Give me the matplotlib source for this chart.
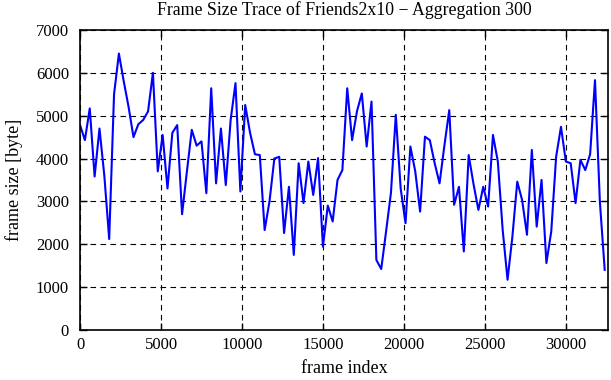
import numpy as np
import matplotlib
matplotlib.use("Agg")
import matplotlib.pyplot as plt

# aggregated frame sizes, one value every 300 frames
step = 300
frame_size = [
    4780, 4430, 5170, 3580, 4700, 3600, 2120, 5500, 6450, 5800,
    5200, 4500, 4800, 4900, 5100, 6000, 3700, 4550, 3300, 4600,
    4780, 2700, 3700, 4670, 4300, 4400, 3190, 5640, 3420, 4700,
    3380, 4900, 5760, 3230, 5250, 4600, 4100, 4080, 2330, 3000,
    4000, 4040, 2260, 3340, 1750, 3890, 2960, 3930, 3150, 4010,
    1940, 2900, 2530, 3500, 3730, 5640, 4430, 5100, 5520, 4280,
    5330, 1630, 1420, 2300, 3200, 5020, 3300, 2490, 4280, 3700,
    2760, 4510, 4430, 3890, 3420, 4300, 5130, 2920, 3340, 1830,
    4080, 3400, 2800, 3340, 2880, 4550, 3930, 2330, 1170, 2180,
    3460, 3030, 2220, 4200, 2410, 3500, 1560, 2300, 4040, 4740,
    3930, 3890, 2960, 3970, 3730, 4100, 5830, 3000, 1400,
]
frame_index = np.arange(len(frame_size)) * step

xticks = [0, 5000, 10000, 15000, 20000, 25000, 30000]
yticks = [0, 1000, 2000, 3000, 4000, 5000, 6000, 7000]

plt.rcParams['font.family'] = ['Liberation Serif', 'DejaVu Serif']

fig = plt.figure(figsize=(6.11, 3.80), dpi=100)
ax = fig.add_axes([0.131, 0.132, 0.864, 0.789])

ax.plot(frame_index, frame_size, color='#0000ff', linewidth=1.5)

ax.set_xlim(0, 32600)
ax.set_ylim(0, 7000)
ax.set_xticks(xticks)
ax.set_yticks(yticks)
ax.tick_params(direction='in', top=True, right=True, labelsize=12, length=5, width=1)
ax.tick_params(axis='x', pad=5)
ax.tick_params(axis='y', pad=8)
ax.grid(True, color='black', linestyle=(0, (5, 4)), linewidth=0.8)
for s in ax.spines.values():
    s.set_linewidth(1.2)

ax.set_xlabel('frame index', fontsize=13, labelpad=5)
ax.set_ylabel('frame size [byte]', fontsize=13, labelpad=9)
ax.set_title('Frame Size Trace of Friends2x10 \u2212 Aggregation 300', fontsize=12.8, pad=11)

fig.savefig('out.png', dpi=100)
